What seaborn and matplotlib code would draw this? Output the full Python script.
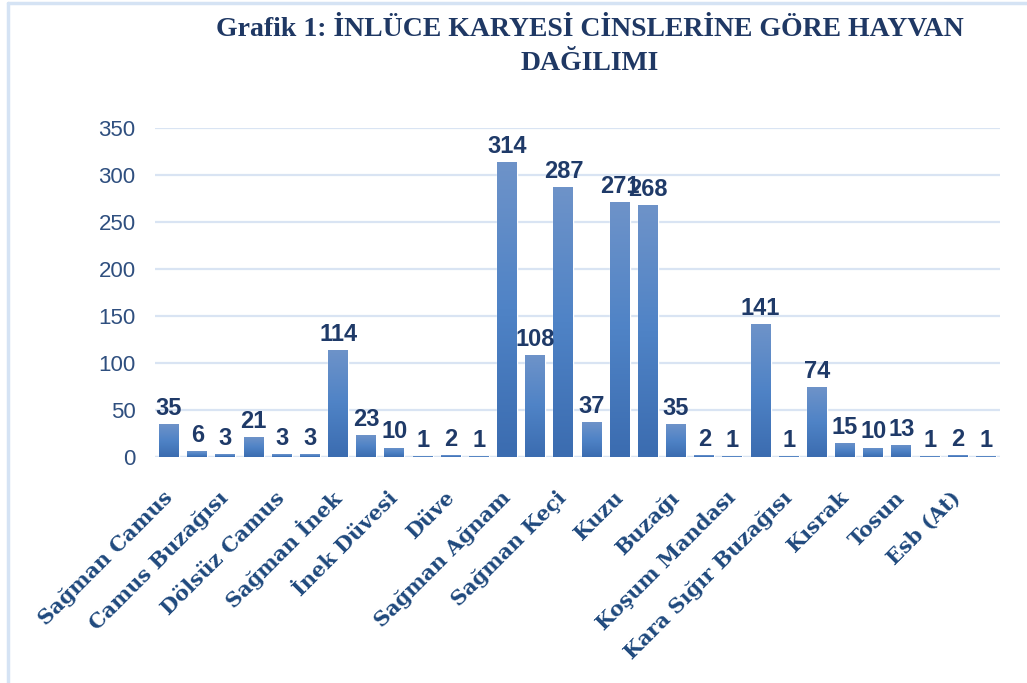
import numpy as np
import seaborn as sns
import matplotlib.pyplot as plt
from matplotlib.colors import LinearSegmentedColormap
from matplotlib.lines import Line2D

# Veriler
degerler = [35, 6, 3, 21, 3, 3, 114, 23, 10, 1, 2, 1, 314, 108, 287,
            37, 271, 268, 35, 2, 1, 141, 1, 74, 15, 10, 13, 1, 2, 1]
# Eksende yalnızca her iki kategoriden biri yazılı
etiketler = ["Sağman Camus", "Camus Buzağısı", "Dölsüz Camus", "Sağman İnek",
             "İnek Düvesi", "Düve", "Sağman Ağnam", "Sağman Keçi", "Kuzu",
             "Buzağı", "Koşum Mandası", "Kara Sığır Buzağısı", "Kısrak",
             "Tosun", "Esb (At)"]
y_ticks = [0, 50, 100, 150, 200, 250, 300, 350]
baslik = "Grafik 1: İNLÜCE KARYESİ CİNSLERİNE GÖRE HAYVAN\nDAĞILIMI"

sns.set_theme(style="white")
plt.rcParams['font.family'] = ['Liberation Sans', 'DejaVu Sans']

fig = plt.figure(figsize=(10.27, 6.83), dpi=100)
ax = fig.add_axes([155 / 1027, 1 - 457 / 683, 845 / 1027, (457 - 128) / 683])

x = np.arange(len(degerler))
sns.barplot(x=x, y=degerler, color="#4a7ebf", width=0.71, ax=ax, zorder=3)

# Sütunlara dikey renk geçişi
cmap = LinearSegmentedColormap.from_list("mavi", ["#3b6cb0", "#4f83c6", "#6e93c9"])
grad = np.linspace(0, 1, 256).reshape(-1, 1)
for p in ax.patches:
    x0, y0 = p.get_x(), p.get_y()
    w, h = p.get_width(), p.get_height()
    im = ax.imshow(grad, cmap=cmap, origin="lower", aspect="auto",
                   extent=[x0, x0 + w, y0, y0 + h], zorder=3)
    im.set_clip_path(p)
    p.set_facecolor("none")

ax.bar_label(ax.containers[0], labels=[str(v) for v in degerler], padding=3,
             fontsize=17, fontweight="bold", color="#1f3a68", zorder=5)

ax.set_xlim(-0.5, len(degerler) - 0.5)
ax.set_ylim(0, 350)
ax.set_yticks(y_ticks)
ax.tick_params(axis="y", labelsize=16, labelcolor="#2f4f7f", length=0, pad=14)
ax.set_xticks(x[::2], etiketler)
ax.tick_params(axis="x", length=0, pad=27)
for lbl in ax.get_xticklabels():
    lbl.set_rotation(45)
    lbl.set_ha("right")
    lbl.set_va("center")
    lbl.set_rotation_mode("anchor")
    lbl.set_family(["DejaVu Serif"])
    lbl.set_fontweight("bold")
    lbl.set_fontsize(15)
    lbl.set_color("#1f497d")

ax.yaxis.grid(True, color="#d9e4f3", linewidth=1.6, zorder=0)
ax.set_axisbelow(True)
for s in ax.spines.values():
    s.set_visible(False)
ax.axhline(0, color="#d9e4f3", linewidth=1.6, zorder=1)

fig.text(590 / 1027, 1 - 17 / 683, baslik, ha="center", va="top",
         family=["Liberation Serif", "DejaVu Serif"], fontweight="bold",
         fontsize=20, color="#1f3864", linespacing=1.5)

# Grafik alanı çerçevesi (üst ve sol)
cer = "#d5e3f4"
fig.add_artist(Line2D([8 / 1027, 1], [1 - 3 / 683, 1 - 3 / 683], color=cer, lw=2.5))
fig.add_artist(Line2D([8 / 1027, 8 / 1027], [0, 1 - 3 / 683], color=cer, lw=2.5))

fig.savefig("out.png", dpi=100)
